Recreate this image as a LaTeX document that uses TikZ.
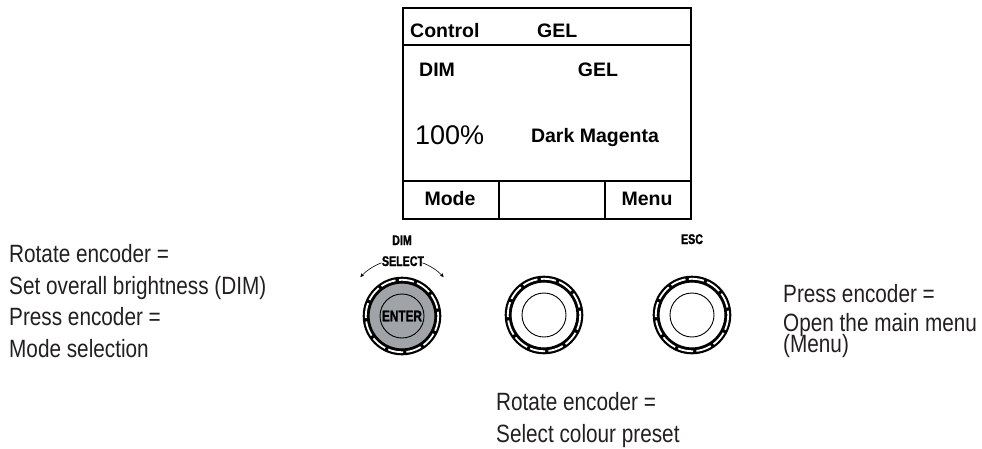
\documentclass[tikz,border=0pt]{standalone}
\usepackage{fontspec}
\setmainfont{Liberation Sans}
\newfontfamily\condfont[FakeStretch=0.83]{Liberation Sans}
\newfontfamily\keyfont[FakeStretch=0.76, FakeBold=1.2]{Liberation Sans Bold}
\usetikzlibrary{arrows.meta, positioning}
\definecolor{knobgray}{RGB}{160, 164, 168}
\definecolor{inkblack}{RGB}{35, 31, 32}

\begin{document}
\begin{tikzpicture}[x=1pt, y=-1pt,
  note/.style    = {align=left, anchor=base west, inner sep=0pt, text=inkblack,
                    font=\condfont\fontsize{25}{31.5}\selectfont},
  lcdtxt/.style  = {inner sep=0pt, anchor=base, font=\bfseries\fontsize{19.5}{20}\selectfont},
  lcdline/.style = {line width=1.3pt},
  keylbl/.style  = {inner sep=0pt, anchor=base, font=\keyfont\fontsize{14}{14}\selectfont},
  knob/.style    = {circle, draw, line width=1.2pt, minimum size=66pt, inner sep=0pt},
  selarr/.style  = {-{Stealth[length=4pt, width=3.5pt]}, line width=0.6pt}
]
\useasboundingbox (0,0) rectangle (982,448);

\node[draw, line width=2pt, minimum width=288pt, minimum height=211pt,
      inner sep=0pt, anchor=north west] (lcd) at (402,7) {};
\draw[lcdline] (402,45) -- (690,45);
\draw[lcdline] (402,181) -- (690,181);
\draw[lcdline] (499,181) -- (499,218);
\draw[lcdline] (605,181) -- (605,218);

\node[lcdtxt, anchor=base west] (ctrl)  at (410,37)  {Control};
\node[lcdtxt, anchor=base west] (gelhd) at (537,37)  {GEL};
\node[lcdtxt, anchor=base west] (dimhd) at (419,76)  {DIM};
\node[lcdtxt]                   (gel)   at (598,76)  {GEL};
\node[inner sep=0pt, anchor=base west, font=\fontsize{27}{28}\selectfont]
                                (level) at (415,144) {100\%};
\node[lcdtxt]                   (color) at (595,142) {Dark Magenta};
\node[lcdtxt]                   (mode)  at (450,205) {Mode};
\node[lcdtxt]                   (menu)  at (647,205) {Menu};

\node[knob, fill=knobgray] (encL) at (402,316) {};
\node[knob]                (encM) at (544,315) {};
\node[knob]                (encR) at (692,315) {};
\foreach \k in {encL, encM, encR} {
  \fill[even odd rule] (\k) circle[radius=39.3] circle[radius=33];
  \draw[white, line width=1.8pt, dash pattern=on 15.2 off 3.4] (\k) circle[radius=36.2];
  \draw[line width=0.9pt] (\k) circle[radius=22];
}
\node[font=\keyfont\fontsize{15.5}{15.5}\selectfont, inner sep=0pt] (enter) at (encL) {ENTER};

\node[keylbl] (dimkey) at (402,245) {DIM};
\node[keylbl] (select) at (403,266) {SELECT};
\node[keylbl] (esc)    at (692,244) {ESC};
\draw[selarr] (encL) ++(-111:57) arc[start angle=-111, end angle=-137, radius=57];
\draw[selarr] (encL) ++(-69:57)  arc[start angle=-69,  end angle=-43,  radius=57];

\node[note] (leftnote)  at (9,357)   {Rotate encoder =\\Set overall brightness (DIM)\\Press encoder =\\Mode selection};
\node[note] (rightnote) at (783,352) {Press encoder =\\[-2pt]Open the main menu\\[-11pt](Menu)};
\node[note] (midnote)   at (496,442) {Rotate encoder =\\Select colour preset};
\end{tikzpicture}
\end{document}
